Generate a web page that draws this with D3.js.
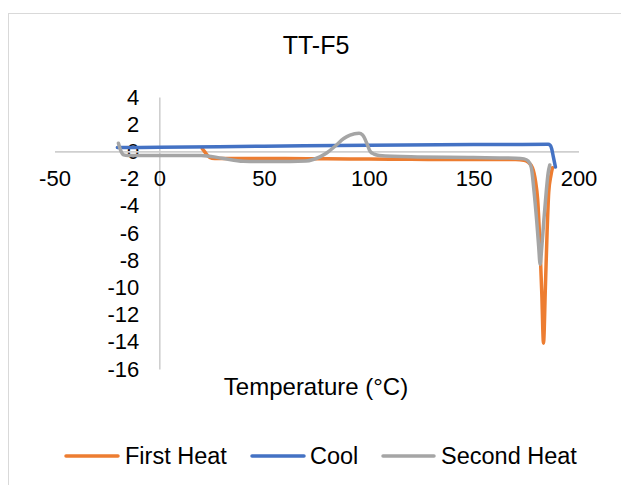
<!DOCTYPE html>
<html>
<head>
<meta charset="utf-8">
<script src="https://cdn.jsdelivr.net/npm/d3@7"></script>
<style>
  html, body { margin: 0; padding: 0; background: #ffffff; }
  svg { display: block; font-family: "Liberation Sans", Arial, sans-serif; }
</style>
</head>
<body>
<svg id="chart" width="621" height="485"></svg>
<script>
// DSC thermogram for sample TT-F5: heat flow vs temperature
const chartTitle = "TT-F5";
const xAxisTitle = "Temperature (°C)";
const seriesNames = ["First Heat", "Cool", "Second Heat"];
const seriesColors = ["#ED7D31", "#4472C4", "#A5A5A5"];

const xTicks = [-50, 0, 50, 100, 150, 200];
const yTicks = [4, 2, 0, -2, -4, -6, -8, -10, -12, -14, -16];

// First heat
const firstHeatT = [20.5, 21.5, 23, 25, 28, 40, 60, 80, 100, 120, 140, 160, 170, 174, 176, 178, 179.5, 180.5, 181.5, 182.5, 183.3, 184.2, 185, 185.8, 186.8, 187.6];
const firstHeatV = [0.2, 0.0, -0.3, -0.5, -0.52, -0.52, -0.53, -0.54, -0.56, -0.58, -0.6, -0.6, -0.6, -0.65, -0.8, -1.2, -2.2, -3.5, -6.5, -10.5, -14.1, -10, -6, -3, -1.8, -1.2];

// Cool
const coolT = [-20, 0, 50, 100, 150, 185.5, 186.5, 187.2, 188, 189];
const coolV = [0.28, 0.3, 0.38, 0.45, 0.5, 0.52, 0.45, 0.2, -0.4, -1.15];

// Second heat
const secondHeatT = [-19.5, -18.5, -17, -15, 0, 20, 30, 40, 55, 70, 76.6, 80, 84, 88, 91, 95.3, 97, 99, 100.6, 102.5, 105, 120, 150, 170, 174, 176, 177.5, 178.7, 180, 181, 181.7, 182.5, 183.5, 184.7, 185.5, 186.3];
const secondHeatV = [0.6, 0.1, -0.25, -0.3, -0.3, -0.3, -0.5, -0.72, -0.75, -0.7, -0.4, -0.1, 0.4, 0.95, 1.2, 1.33, 1.2, 0.6, 0, -0.2, -0.3, -0.4, -0.45, -0.5, -0.55, -0.7, -1.2, -2.8, -5, -7, -8.3, -7, -5, -2.8, -1.6, -1.0];

const series = [
  { name: seriesNames[0], color: seriesColors[0], t: firstHeatT, v: firstHeatV },
  { name: seriesNames[1], color: seriesColors[1], t: coolT, v: coolV },
  { name: seriesNames[2], color: seriesColors[2], t: secondHeatT, v: secondHeatV }
];

const svg = d3.select("#chart");

// chart frame
svg.append("rect")
  .attr("x", 8.5).attr("y", 13.5)
  .attr("width", 700).attr("height", 600)
  .attr("fill", "#ffffff")
  .attr("stroke", "#d9d9d9").attr("stroke-width", 1);

const x = d3.scaleLinear().domain([-50, 200]).range([54.5, 578.5]);
const y = d3.scaleLinear().domain([-16, 4]).range([369, 97]);

// title
svg.append("text")
  .attr("x", 316).attr("y", 54)
  .attr("text-anchor", "middle")
  .attr("font-size", 25)
  .attr("fill", "#000")
  .text(chartTitle);

// axes crossing at the origin
const axisColor = "#cfcfcf";
const fmt = d => String(d);
const yAxis = svg.append("g")
  .attr("transform", `translate(${x(0)},0)`)
  .call(d3.axisLeft(y).tickValues(yTicks).tickSize(0).tickPadding(20).tickFormat(fmt));
const xAxis = svg.append("g")
  .attr("transform", `translate(0,${y(0)})`)
  .call(d3.axisBottom(x).tickValues(xTicks).tickSize(0).tickPadding(19).tickFormat(fmt));

[xAxis, yAxis].forEach(g => {
  g.select(".domain").attr("stroke", axisColor).attr("stroke-width", 1.6);
  g.selectAll("text")
    .attr("font-size", 22)
    .attr("font-family", "'Liberation Sans', Arial, sans-serif")
    .attr("fill", "#000");
});

// x axis title
svg.append("text")
  .attr("x", 316).attr("y", 395)
  .attr("text-anchor", "middle")
  .attr("font-size", 24)
  .attr("fill", "#000")
  .text(xAxisTitle);

// series lines
const line = d3.line()
  .x(d => x(d[0]))
  .y(d => y(d[1]))
  .curve(d3.curveMonotoneX);

series.forEach(s => {
  const pts = s.t.map((t, i) => [t, s.v[i]]);
  svg.append("path")
    .datum(pts)
    .attr("fill", "none")
    .attr("stroke", s.color)
    .attr("stroke-width", 3.5)
    .attr("stroke-linejoin", "round")
    .attr("stroke-linecap", "round")
    .attr("d", line);
});

// legend
const legendItems = [
  { x0: 66, x1: 118, tx: 125 },
  { x0: 252, x1: 304, tx: 310 },
  { x0: 383, x1: 434, tx: 441 }
];
const legend = svg.append("g");
series.forEach((s, i) => {
  const it = legendItems[i];
  legend.append("line")
    .attr("x1", it.x0).attr("x2", it.x1)
    .attr("y1", 456).attr("y2", 456)
    .attr("stroke", s.color)
    .attr("stroke-width", 3.5)
    .attr("stroke-linecap", "round");
  legend.append("text")
    .attr("x", it.tx).attr("y", 464)
    .attr("font-size", 23.5)
    .attr("fill", "#000")
    .text(s.name);
});
</script>
</body>
</html>
